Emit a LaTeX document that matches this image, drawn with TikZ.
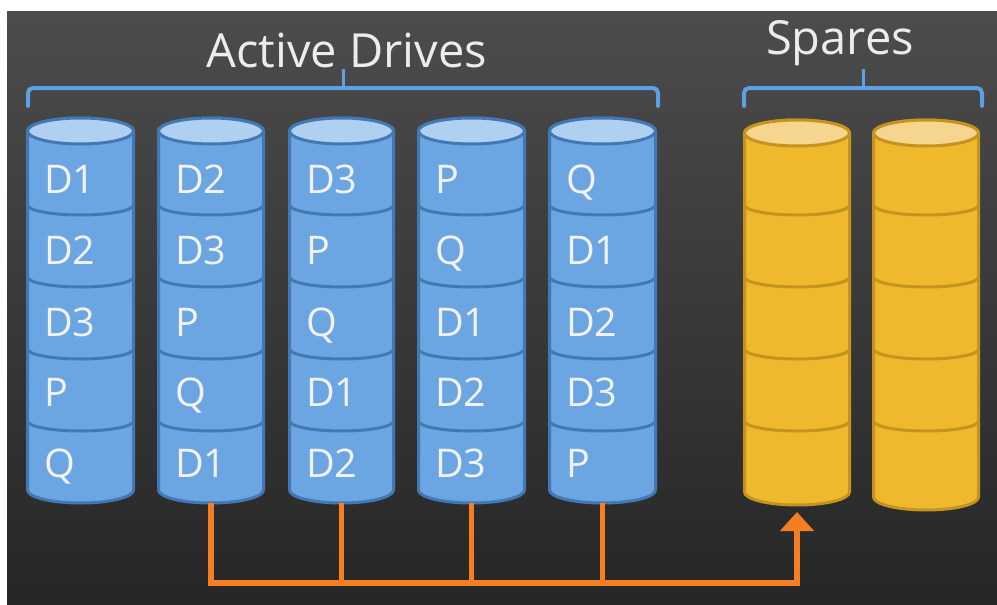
\documentclass[tikz,border=0pt]{standalone}
\usepackage{fontspec}
\setmainfont{Open Sans}
\usetikzlibrary{arrows.meta}
\definecolor{bgtop}{RGB}{76,76,76}
\definecolor{bgbot}{RGB}{38,38,38}
\definecolor{bluefill}{RGB}{108,166,226}
\definecolor{blueedge}{RGB}{66,120,180}
\definecolor{bluetop}{RGB}{176,208,242}
\definecolor{yelfill}{RGB}{240,184,44}
\definecolor{yeledge}{RGB}{196,148,30}
\definecolor{yeltop}{RGB}{246,214,142}
\definecolor{bracecol}{RGB}{92,160,230}
\definecolor{buscol}{RGB}{246,126,34}
\definecolor{txtcol}{RGB}{242,242,242}
% \cyl{name}{xl}{xr}{ytop}{ybot}{fill}{edge}{topfill}
\newcommand{\cyl}[8]{%
  \pgfmathsetmacro{\rx}{(#3-#2)/2}%
  \pgfmathsetmacro{\xc}{(#3+#2)/2}%
  \path[fill=#6,draw=#7,line width=3pt,line join=round]
    (#2,-#4) -- (#2,-#5) arc[start angle=180,end angle=360,x radius=\rx,y radius=13]
    -- (#3,-#4) arc[start angle=0,end angle=180,x radius=\rx,y radius=13] -- cycle;
  \foreach \ys in {205,277,349,421}{
    \draw[#7,line width=3pt] (#2,-\ys) arc[start angle=180,end angle=360,x radius=\rx,y radius=10];
  }
  \path[fill=#8,draw=#7,line width=3pt] (\xc,-#4) ellipse[x radius=\rx,y radius=13];
  \coordinate (#1top) at (\xc,-#4+13);
  \coordinate (#1) at (\xc,-#5-13);
}
\tikzset{
  celltext/.style={text=txtcol,font=\fontsize{39.5}{42}\selectfont,anchor=base west,inner sep=0pt},
  titletext/.style={text=txtcol!95!gray,font=\fontsize{47}{50}\selectfont,anchor=base,inner sep=0pt},
  bracket/.style={draw=bracecol,line width=4pt,rounded corners=5pt,line cap=round},
  bus/.style={draw=buscol,line width=5.5pt,line join=miter}
}
\begin{document}
\begin{tikzpicture}[x=1pt,y=1pt]
\useasboundingbox (0,0) rectangle (997,-605);
\fill[white] (0,0) rectangle (997,-605);
\shade[top color=bgtop,bottom color=bgbot] (7,-11) rectangle (997,-605);

% titles
\node[titletext] (tact) at (347,-67) {Active Drives};
\node[titletext] (tspa) at (840,-54) {Spares};

% brackets
\draw[bracket] (28,-106) -- (28,-88) -- (658,-88) -- (658,-106);
\draw[draw=bracecol,line width=3pt] (343,-88) -- (343,-69);
\draw[bracket] (744,-106) -- (744,-88) -- (982,-88) -- (982,-106);
\draw[draw=bracecol,line width=3pt] (863,-88) -- (863,-69);

% active drives
\cyl{d1}{27.5}{133.5}{131}{490}{bluefill}{blueedge}{bluetop}
\cyl{d2}{158.5}{263.5}{131}{490}{bluefill}{blueedge}{bluetop}
\cyl{d3}{289.5}{393.5}{131}{490}{bluefill}{blueedge}{bluetop}
\cyl{d4}{418.5}{524.5}{131}{490}{bluefill}{blueedge}{bluetop}
\cyl{d5}{549.5}{655.5}{131}{490}{bluefill}{blueedge}{bluetop}
% spares
\cyl{s1}{744.5}{849.5}{133}{492}{yelfill}{yeledge}{yeltop}
\cyl{s2}{873.5}{978.5}{133}{497}{yelfill}{yeledge}{yeltop}

% labels
\foreach \col/\x/\a/\b/\c/\d/\e in {1/44/D1/D2/D3/P/Q, 2/175/D2/D3/P/Q/D1, 3/306/D3/P/Q/D1/D2, 4/435/P/Q/D1/D2/D3, 5/566/Q/D1/D2/D3/P}{
  \node[celltext] (l\col a) at (\x,-193) {\a};
  \node[celltext] (l\col b) at (\x,-264) {\b};
  \node[celltext] (l\col c) at (\x,-336) {\c};
  \node[celltext] (l\col d) at (\x,-406) {\d};
  \node[celltext] (l\col e) at (\x,-477) {\e};
}

% rebuild bus
\coordinate (bus) at (s1 |- 0,-583);
\coordinate (s1in) at (797,-512);
\draw[bus] (d2) -- (d2 |- bus) -- (bus);
\draw[bus] (d3) -- (d3 |- bus);
\draw[bus] (d4) -- (d4 |- bus);
\draw[bus] (d5) -- (d5 |- bus);
\draw[bus,-{Triangle[width=33pt,length=19pt]}] ([yshift=-2.75pt]bus) -- (s1in);
\end{tikzpicture}
\end{document}
